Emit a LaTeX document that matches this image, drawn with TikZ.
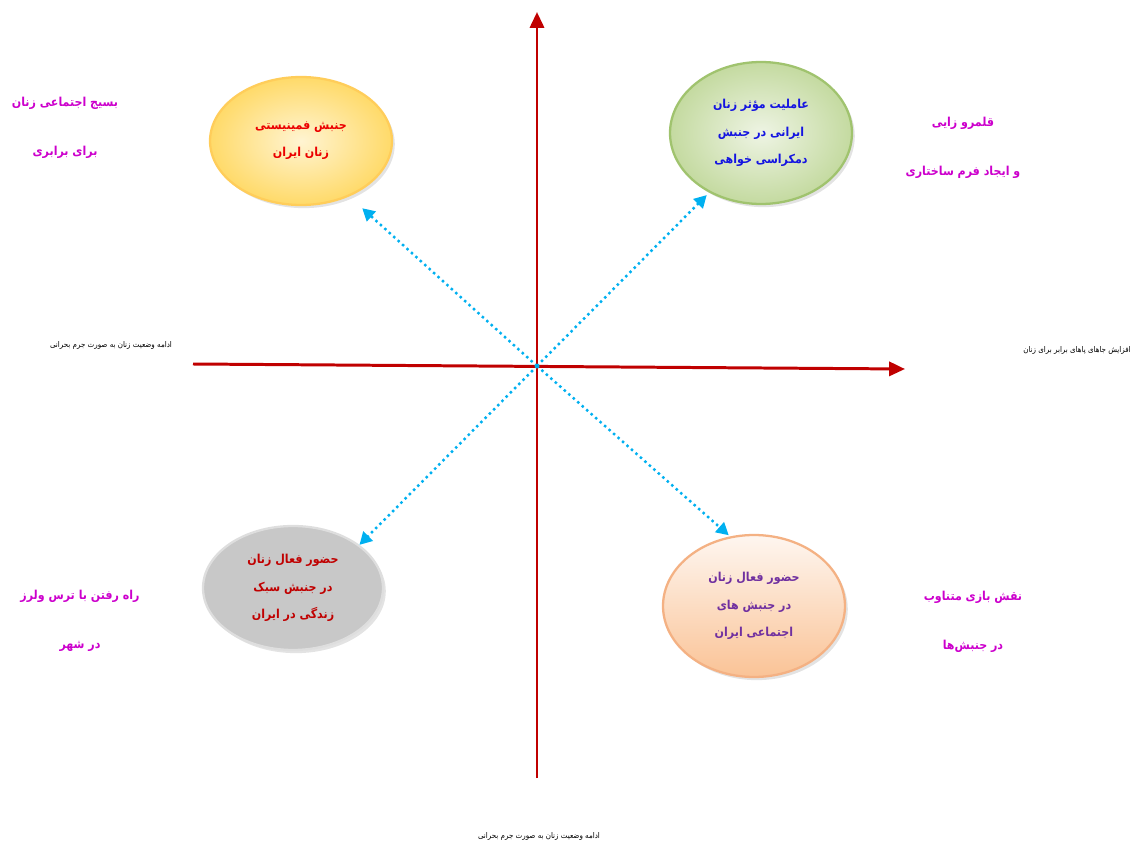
\documentclass[tikz,border=0pt]{standalone}
\usepackage{fontspec}
\newfontfamily\arabicfont[Script=Arabic]{DejaVu Sans Condensed}
\TeXXeTstate=1
\usetikzlibrary{shapes.geometric,shadows,arrows.meta}

\definecolor{axisred}{RGB}{192,0,0}
\definecolor{dotblue}{RGB}{0,176,240}
\definecolor{sidepink}{RGB}{204,0,204}
\definecolor{txtpurple}{RGB}{112,48,160}
\newcommand{\fa}[1]{\beginR #1\endR}

\tikzset{
    bubble/.style={ellipse, line width=1.3pt, align=center,
        font=\arabicfont\bfseries\fontsize{7}{15.5}\selectfont,
        drop shadow={shadow xshift=1.6pt, shadow yshift=-1.8pt, fill=black!22}},
    sidetext/.style={text=sidepink, align=center,
        font=\arabicfont\bfseries\fontsize{7}{28}\selectfont},
    axistext/.style={font=\arabicfont\fontsize{4.5}{6}\selectfont},
    axisline/.style={draw=axisred, line width=1.7pt, -{Triangle[width=8pt,length=9pt]}},
    dotlink/.style={draw=dotblue, line width=1.4pt, dotted, -{Triangle[width=7.5pt,length=7pt]}},
}

\begin{document}
\begin{tikzpicture}[x=0.02cm, y=-0.02cm]
    \useasboundingbox (0,0) rectangle (1130,851);

    \coordinate (o) at (537,366);
    \coordinate (xlow) at (193,364);
    \coordinate (xhigh) at (905,369);
    \coordinate (ylow) at (537,778);
    \coordinate (yhigh) at (537,12);
    \draw[axisline] (xlow) -- (xhigh);
    \draw[axisline] (ylow) -- (yhigh);

    \node[bubble, draw={rgb,255:red,255;green,205;blue,90}, inner color={rgb,255:red,255;green,244;blue,210},
        outer color={rgb,255:red,255;green,218;blue,105}, minimum width=3.64cm, minimum height=2.56cm,
        text={rgb,255:red,235;green,0;blue,0}] (fem) at (301,141)
        {\fa{جنبش فمینیستی}\\\fa{زنان ایران}};
    \node[bubble, draw={rgb,255:red,160;green,195;blue,110}, inner color={rgb,255:red,238;green,244;blue,228},
        outer color={rgb,255:red,196;green,218;blue,160}, minimum width=3.64cm, minimum height=2.84cm,
        text={rgb,255:red,20;green,20;blue,225}] (dem) at (761,133)
        {\fa{عاملیت مؤثر زنان}\\\fa{ایرانی  در جنبش}\\\fa{دمکراسی خواهی}};
    \node[bubble, draw={rgb,255:red,222;green,222;blue,222}, fill={rgb,255:red,200;green,200;blue,200},
        minimum width=3.6cm, minimum height=2.48cm, text=axisred] (life) at (293,588)
        {\fa{حضور فعال زنان}\\\fa{در جنبش سبک}\\\fa{زندگی در  ایران}};
    \node[bubble, draw={rgb,255:red,244;green,177;blue,131}, top color={rgb,255:red,254;green,246;blue,240},
        bottom color={rgb,255:red,250;green,195;blue,150}, minimum width=3.64cm, minimum height=2.84cm,
        text=txtpurple] (soc) at (754,606)
        {\fa{حضور فعال زنان}\\\fa{در جنبش های}\\\fa{اجتماعی  ایران}};

    \draw[dotlink, shorten >=10pt] (o) -- (fem.311);
    \draw[dotlink, shorten >=2pt] (o) -- (dem.229);
    \draw[dotlink] (o) -- (life.33);
    \draw[dotlink, shorten >=1pt] (o) -- (soc.109);

    \node[sidetext] (mob) at (65,128) {\fa{بسیج اجتماعی  زنان}\\\fa{برای  برابری}};
    \node[sidetext] (terr) at (963,148) {\fa{قلمرو زایی}\\\fa{و ایجاد فرم ساختاری}};
    \node[sidetext] (walk) at (80,621) {\fa{راه رفتن  با ترس ولرز}\\\fa{در شهر}};
    \node[sidetext] (play) at (973,622) {\fa{نقش بازی متناوب}\\\fa{در جنبش‌ها}};

    \node[axistext] (west) at (111,345) {\fa{ادامه وضعیت زنان به صورت جرم بحرانی}};
    \node[axistext] (east) at (1077,350) {\fa{افزایش جاهای پاهای برابر برای زنان}};
    \node[axistext] (south) at (539,836) {\fa{ادامه وضعیت زنان به صورت جرم بحرانی}};
\end{tikzpicture}
\end{document}
